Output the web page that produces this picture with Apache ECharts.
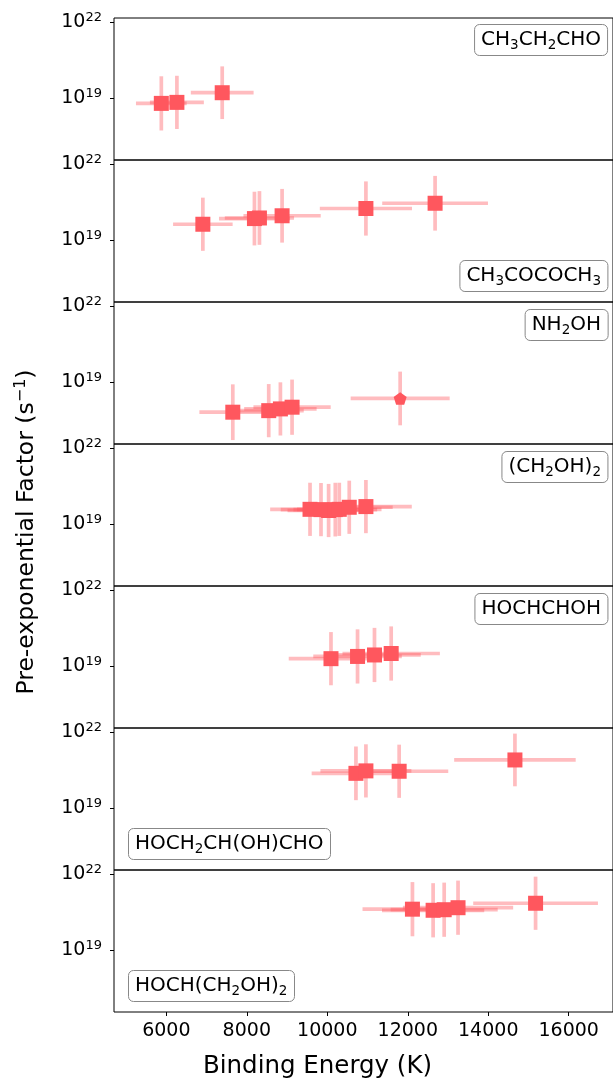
<!DOCTYPE html>
<html>
<head>
<meta charset="utf-8">
<script src="https://cdn.jsdelivr.net/npm/echarts@6/dist/echarts.min.js"></script>
<style>
  html, body { margin: 0; padding: 0; background: #fff; }
  #chart { width: 613px; height: 1079px; }
</style>
</head>
<body>
<div id="chart"></div>
<script>
// molecule labels, one panel each ({s|..} = subscript)
const molecules = [
  'CH{s|3}CH{s|2}CHO',
  'CH{s|3}COCOCH{s|3}',
  'NH{s|2}OH',
  '(CH{s|2}OH){s|2}',
  'HOCHCHOH',
  'HOCH{s|2}CH(OH)CHO',
  'HOCH(CH{s|2}OH){s|2}',
];

// binding energy (K) and its error, per panel
const bindingEnergy = [
  [5876, 6263, 7389],
  [6908, 8190, 8314, 8877, 10960, 12679],
  [7652, 8545, 8835, 9125, 11811],
  [9571, 9844, 10033, 10199, 10298, 10546, 10960],
  [10092, 10752, 11173, 11588],
  [10712, 10960, 11786, 14663],
  [12116, 12630, 12905, 13249, 15176],
];
const bindingEnergyErr = [
  [630, 670, 780],
  [740, 880, 860, 960, 1145, 1314],
  [830, 870, 900, 960, 1230],
  [990, 1000, 1020, 1040, 1050, 1080, 1140],
  [1050, 1100, 1150, 1210],
  [1100, 1130, 1220, 1510],
  [1240, 1270, 1330, 1370, 1550],
];

// pre-exponential factor (s^-1) and its error in dex
const prefactor = [
  [6.3e18, 6.9e18, 1.66e19],
  [4.3e19, 7.2e19, 7.6e19, 9.3e19, 1.8e20, 2.9e20],
  [6.6e17, 7.6e17, 8.9e17, 1.04e18, 2.3e18],
  [3.9e19, 3.8e19, 3.5e19, 3.8e19, 3.9e19, 4.7e19, 5.0e19],
  [2.0e19, 2.45e19, 2.8e19, 3.2e19],
  [2.4e20, 3.0e20, 2.9e20, 8.1e20],
  [4.2e20, 3.8e20, 4.0e20, 4.8e20, 7.2e20],
];
const prefactorErr = [
  [1.07, 1.05, 1.04],
  [1.05, 1.06, 1.06, 1.06, 1.07, 1.08],
  [1.10, 1.05, 1.05, 1.09, 1.06],
  [1.05, 1.05, 1.05, 1.06, 1.05, 1.05, 1.05],
  [1.05, 1.07, 1.07, 1.07],
  [1.06, 1.05, 1.05, 1.04],
  [1.07, 1.07, 1.07, 1.07, 1.05],
];

// marker shape per point (pentagon for the last NH2OH point)
const markerShape = [
  ['s', 's', 's'],
  ['s', 's', 's', 's', 's', 's'],
  ['s', 's', 's', 's', 'p'],
  ['s', 's', 's', 's', 's', 's', 's'],
  ['s', 's', 's', 's'],
  ['s', 's', 's', 's'],
  ['s', 's', 's', 's', 's'],
];

const xTicks = [6000, 8000, 10000, 12000, 14000, 16000];
const yTicks = [1e19, 1e22];

const FONT = 'DejaVu Sans';
const MARK_COLOR = '#ff575e';
const BAR_COLOR = 'rgba(255, 87, 94, 0.4)';
const PENTAGON = 'path://M0,-1L0.951,-0.309L0.588,0.809L-0.588,0.809L-0.951,-0.309Z';

const PANEL_TOP = 18;
const PANEL_H = 142;

// label box placement per panel
const labelPos = [
  { right: 5, top: 24 },
  { right: 5, top: 260 },
  { right: 5, top: 309 },
  { right: 5, top: 451 },
  { right: 5, top: 593 },
  { left: 128, top: 828 },
  { left: 128, top: 970 },
];

function renderErrorBar(params, api) {
  const x = api.value(0);
  const y = api.value(1);
  const xe = api.value(2);
  const f = Math.pow(10, api.value(3));
  const left = api.coord([x - xe, y]);
  const right = api.coord([x + xe, y]);
  const top = api.coord([x, y * f]);
  const bottom = api.coord([x, y / f]);
  const style = { stroke: BAR_COLOR, lineWidth: 3.7, fill: null };
  return {
    type: 'group',
    children: [
      { type: 'line', shape: { x1: left[0], y1: left[1], x2: right[0], y2: right[1] }, style: style },
      { type: 'line', shape: { x1: top[0], y1: top[1], x2: bottom[0], y2: bottom[1] }, style: style },
    ],
  };
}

const grids = [];
const xAxes = [];
const yAxes = [];
const series = [];
const titles = [];

molecules.forEach((name, i) => {
  const last = i === molecules.length - 1;
  grids.push({
    left: 114,
    width: 500,
    top: PANEL_TOP + PANEL_H * i,
    height: PANEL_H,
    show: true,
    borderColor: '#000',
    borderWidth: 1,
    backgroundColor: 'transparent',
  });
  xAxes.push({
    type: 'value',
    gridIndex: i,
    min: 4700,
    max: 17100,
    axisLine: { show: false },
    splitLine: { show: false },
    axisTick: {
      show: last,
      customValues: xTicks,
      length: 4,
      lineStyle: { color: '#000', width: 1 },
    },
    axisLabel: {
      show: last,
      customValues: xTicks,
      margin: 8,
      formatter: (v) => '{t|' + v + '}',
      rich: {
        t: { fontSize: 19, fontFamily: FONT, color: '#000', lineHeight: 22 },
      },
    },
  });
  yAxes.push({
    type: 'log',
    logBase: 10,
    gridIndex: i,
    min: Math.pow(10, 16.564),
    max: Math.pow(10, 22.17),
    axisLine: { show: false },
    splitLine: { show: false },
    minorTick: { show: false },
    axisTick: {
      show: true,
      customValues: yTicks,
      length: 4,
      lineStyle: { color: '#000', width: 1 },
    },
    axisLabel: {
      customValues: yTicks,
      margin: 12,
      formatter: (v) => '{b|10}{sup|' + Math.round(Math.log10(v)) + '}',
      rich: {
        b: { fontSize: 19, fontFamily: FONT, color: '#000', lineHeight: 22 },
        sup: { fontSize: 13, fontFamily: FONT, color: '#000', lineHeight: 12, verticalAlign: 'top' },
      },
    },
  });

  /* 误差棒 */
  series.push({
    type: 'custom',
    xAxisIndex: i,
    yAxisIndex: i,
    renderItem: renderErrorBar,
    data: bindingEnergy[i].map((e, j) => [e, prefactor[i][j], bindingEnergyErr[i][j], prefactorErr[i][j]]),
    z: 2,
    silent: true,
  });
  /* 数据点 */
  series.push({
    type: 'scatter',
    xAxisIndex: i,
    yAxisIndex: i,
    data: bindingEnergy[i].map((e, j) => {
      const pent = markerShape[i][j] === 'p';
      return {
        value: [e, prefactor[i][j]],
        symbol: pent ? PENTAGON : 'rect',
        symbolSize: pent ? [13, 12.4] : 15,
      };
    }),
    itemStyle: { color: MARK_COLOR, opacity: 1 },
    z: 3,
    silent: true,
  });

  titles.push(Object.assign({
    text: name,
    padding: [4, 7],
    borderRadius: 5,
    borderColor: '#888',
    borderWidth: 1,
    backgroundColor: '#fff',
    textStyle: {
      fontFamily: FONT,
      fontSize: 20,
      fontWeight: 'normal',
      color: '#000',
      lineHeight: 24,
      rich: {
        s: { fontFamily: FONT, fontSize: 13.5, color: '#000', lineHeight: 10, verticalAlign: 'bottom' },
      },
    },
  }, labelPos[i]));
});

const option = {
  animation: false,
  backgroundColor: '#fff',
  title: titles,
  grid: grids,
  xAxis: xAxes,
  yAxis: yAxes,
  series: series,
  graphic: [
    {
      type: 'text',
      x: 317.5,
      y: 1067,
      style: {
        text: 'Binding Energy (K)',
        fontFamily: FONT,
        fontSize: 24.5,
        fill: '#000',
        align: 'center',
        verticalAlign: 'middle',
      },
    },
    {
      type: 'text',
      x: 27,
      y: 532,
      rotation: Math.PI / 2,
      style: {
        text: 'Pre-exponential Factor (s{sup|\u22121})',
        fontFamily: FONT,
        fontSize: 23.5,
        fill: '#000',
        align: 'center',
        verticalAlign: 'middle',
        lineHeight: 28,
        rich: {
          sup: { fontFamily: FONT, fontSize: 16, fill: '#000', lineHeight: 16, verticalAlign: 'top' },
        },
      },
    },
  ],
};

const myChart = echarts.init(document.getElementById('chart'), null, { renderer: 'canvas' });
myChart.setOption(option, true);
</script>
</body>
</html>
